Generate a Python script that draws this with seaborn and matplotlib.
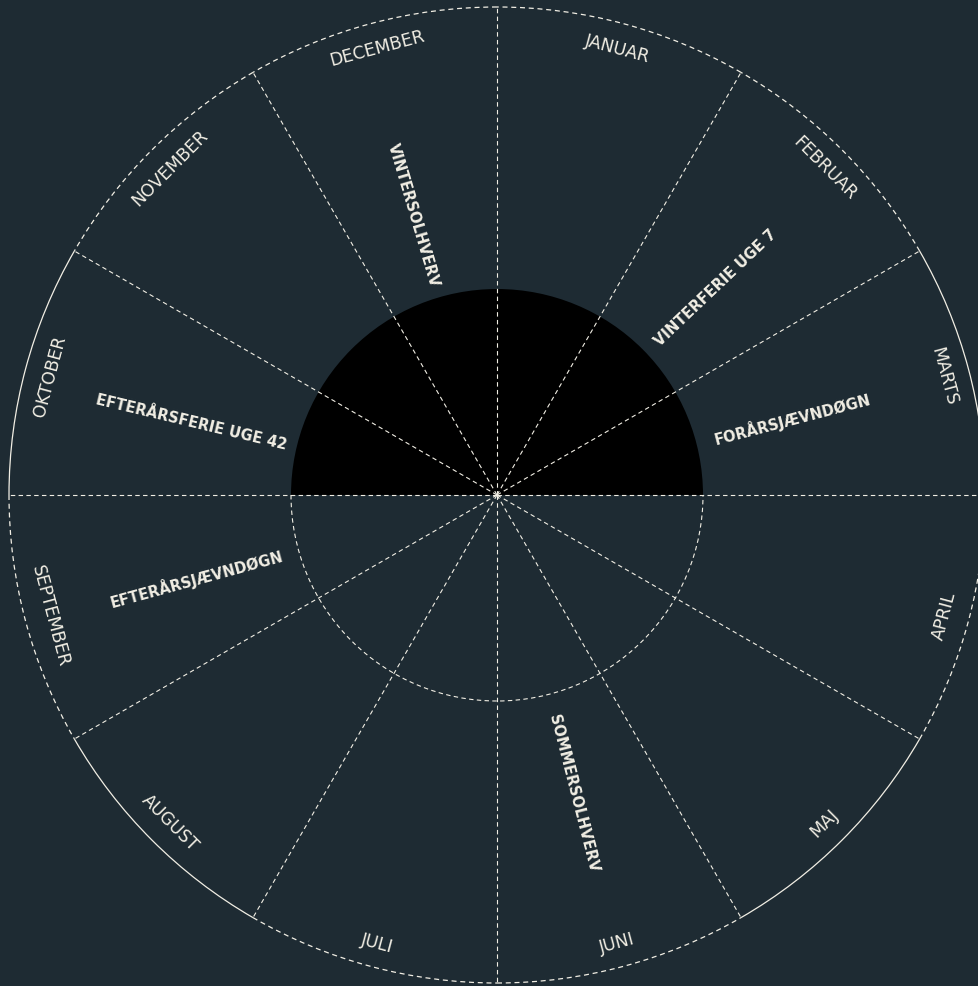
"""
Årshjul - year wheel with months and seasonal events.
"""

import numpy as np
import matplotlib.pyplot as plt
from matplotlib.patches import Wedge, Arc
import seaborn as sns


months = ["JANUAR", "FEBRUAR", "MARTS", "APRIL", "MAJ", "JUNI",
          "JULI", "AUGUST", "SEPTEMBER", "OKTOBER", "NOVEMBER", "DECEMBER"]

# event position on the wheel, in months from 1 January
events = ["VINTERSOLHVERV", "VINTERFERIE UGE 7", "FORÅRSJÆVNDØGN",
          "EFTERÅRSFERIE UGE 42", "EFTERÅRSJÆVNDØGN", "SOMMERSOLHVERV"]
event_pos = [11.45, 1.55, 2.51, 9.45, 8.49, 5.52]

# layout / style
BG = "#1e2b33"
FG = "#f1eee4"
R_OUT = 488
R_IN = 206
R_MONTH = 463
event_r = [293, 302, 305, 314, 312, 307]
arc_solid = {"MARTS", "MAJ", "AUGUST", "OKTOBER"}
DASH = (0, (4, 3))


def wheel_angle(pos):
    # January starts at the top and the year runs clockwise
    return 90 - 30 * pos


def radial_rotation(angle):
    a = (angle + 180) % 360 - 180
    return a - 180 if a > 90 else (a + 180 if a < -90 else a)


sns.set_theme(style="dark", rc={"axes.facecolor": BG, "figure.facecolor": BG})
plt.rcParams["font.family"] = ["DejaVu Sans"]

fig = plt.figure(figsize=(9.79, 9.87), dpi=100)
ax = fig.add_axes([0, 0, 1, 1])
ax.set_xlim(-497, 979 - 497)
ax.set_ylim(-(987 - 496), 496)
ax.set_axis_off()

# black upper half disc, dashed lower half
ax.add_patch(Wedge((0, 0), R_IN, 0, 180, facecolor="black", edgecolor="none", zorder=1))
ax.add_patch(Arc((0, 0), 2 * R_IN, 2 * R_IN, theta1=180, theta2=360,
                 color=FG, lw=0.8, linestyle=DASH, zorder=2))

# outer ring, one arc per month
for i, m in enumerate(months):
    start = wheel_angle(i + 1)
    end = wheel_angle(i)
    ls = "-" if m in arc_solid else DASH
    ax.add_patch(Arc((0, 0), 2 * R_OUT, 2 * R_OUT, theta1=start, theta2=end,
                     color=FG, lw=0.9, linestyle=ls, zorder=2))

# spokes between months
for i in range(len(months)):
    a = np.deg2rad(wheel_angle(i))
    ax.plot([0, R_OUT * np.cos(a)], [0, R_OUT * np.sin(a)],
            color=FG, lw=0.8, linestyle=DASH, zorder=3)

# month names, tangent to the ring
for i, m in enumerate(months):
    ang = wheel_angle(i + 0.5)
    a = (ang + 180) % 360 - 180
    rot = a - 90 if a >= 0 else a + 90
    r = np.deg2rad(ang)
    ax.text(R_MONTH * np.cos(r), R_MONTH * np.sin(r), m, rotation=rot,
            ha="center", va="center", rotation_mode="anchor",
            color=FG, fontsize=12.5, zorder=4)

# events, radial text
for name, pos, rr in zip(events, event_pos, event_r):
    ang = wheel_angle(pos)
    r = np.deg2rad(ang)
    ax.text(rr * np.cos(r), rr * np.sin(r), name, rotation=radial_rotation(ang),
            ha="center", va="center", rotation_mode="anchor",
            color=FG, fontsize=10.5, fontweight="bold", zorder=4)

plt.savefig("out.png", dpi=100, facecolor=BG)
plt.close()
